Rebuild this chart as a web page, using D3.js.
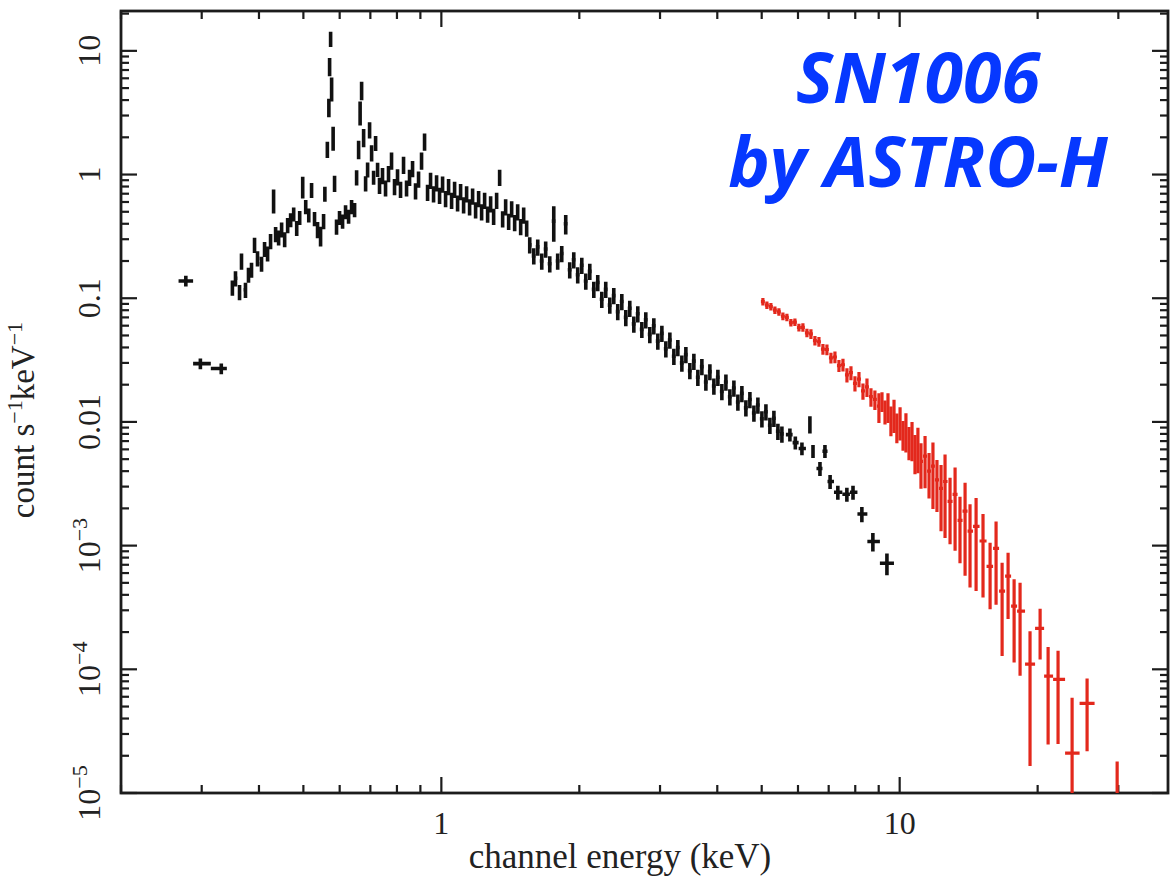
<!DOCTYPE html>
<html>
<head>
<meta charset="utf-8">
<script src="https://cdn.jsdelivr.net/npm/d3@7/dist/d3.min.js"></script>
<style>
  body { margin: 0; background: #fff; }
  svg { display: block; }
</style>
</head>
<body>
<div id="chart"></div>
<script>
// spectrum bins: [energy keV, count s^-1 keV^-1, relative error]
var blackBins = [
  [0.277, 0.138, 0.10], [0.298, 0.0296, 0.10], [0.331, 0.027, 0.10],
  [0.350, 0.122, 0.14], [0.3555, 0.145, 0.14], [0.3628, 0.112, 0.14], [0.3664, 0.20, 0.15],
  [0.3738, 0.117, 0.14], [0.3795, 0.155, 0.14], [0.3853, 0.17, 0.14], [0.3912, 0.27, 0.14],
  [0.3971, 0.21, 0.14], [0.4052, 0.19, 0.14], [0.4114, 0.25, 0.14], [0.4177, 0.23, 0.14],
  [0.4240, 0.29, 0.14], [0.4305, 0.62, 0.22], [0.4349, 0.33, 0.14], [0.4415, 0.31, 0.14],
  [0.4482, 0.36, 0.14], [0.4551, 0.30, 0.14], [0.4620, 0.39, 0.14], [0.4690, 0.43, 0.13],
  [0.4762, 0.48, 0.13], [0.4835, 0.37, 0.14], [0.4908, 0.45, 0.13], [0.4983, 0.80, 0.20],
  [0.5059, 0.55, 0.13], [0.5137, 0.47, 0.13], [0.5210, 0.75, 0.14], [0.5288, 0.44, 0.13],
  [0.5369, 0.36, 0.15], [0.5451, 0.32, 0.18], [0.5534, 0.42, 0.14], [0.557, 0.70, 0.14],
  [0.564, 1.6, 0.15], [0.5683, 3.5, 0.17], [0.5704, 7.5, 0.17], [0.5733, 12.5, 0.14],
  [0.5762, 5.0, 0.22], [0.5806, 2.0, 0.22], [0.5848, 0.85, 0.15], [0.5906, 0.38, 0.14],
  [0.5996, 0.45, 0.13], [0.6088, 0.42, 0.13], [0.6180, 0.50, 0.13], [0.6275, 0.46, 0.13],
  [0.6370, 0.55, 0.13], [0.6467, 0.52, 0.13], [0.6533, 0.95, 0.14], [0.6599, 1.6, 0.17],
  [0.6649, 3.2, 0.22], [0.6699, 4.8, 0.17], [0.6767, 2.0, 0.17], [0.6835, 0.85, 0.14],
  [0.6904, 1.1, 0.14], [0.6973, 2.3, 0.15], [0.7044, 1.5, 0.15], [0.7115, 0.95, 0.13],
  [0.7187, 1.8, 0.14], [0.7259, 1.1, 0.13],
  [0.7330, 0.82, 0.15], [0.7441, 0.98, 0.15], [0.7555, 0.78, 0.15], [0.7669, 1.02, 0.15],
  [0.7786, 1.30, 0.16], [0.7904, 0.80, 0.15], [0.8024, 0.96, 0.15], [0.8146, 0.76, 0.15],
  [0.8270, 1.20, 0.16], [0.8396, 0.78, 0.15], [0.8523, 0.95, 0.15], [0.8653, 1.12, 0.15],
  [0.8784, 0.74, 0.15], [0.8918, 0.92, 0.15], [0.9053, 1.30, 0.16], [0.9191, 1.85, 0.16],
  [0.9331, 0.72, 0.15], [0.9472, 0.90, 0.15], [0.9616, 0.70, 0.15], [0.9763, 0.86, 0.15],
  [0.9911, 0.68, 0.15], [1.0062, 0.84, 0.15], [1.0215, 0.64, 0.15], [1.0370, 0.80, 0.15],
  [1.0528, 0.62, 0.15], [1.0688, 0.76, 0.15], [1.0850, 0.59, 0.15], [1.1015, 0.73, 0.15],
  [1.1183, 0.57, 0.15], [1.1353, 0.70, 0.15], [1.1525, 0.55, 0.15], [1.1700, 0.67, 0.15],
  [1.1878, 0.52, 0.15], [1.2059, 0.64, 0.15], [1.2242, 0.50, 0.15], [1.2428, 0.62, 0.15],
  [1.2617, 0.48, 0.15], [1.2809, 0.58, 0.15], [1.3004, 0.46, 0.15], [1.3201, 0.62, 0.15],
  [1.3402, 0.95, 0.15], [1.3606, 0.44, 0.15], [1.3813, 0.55, 0.15], [1.4023, 0.42, 0.15],
  [1.4236, 0.53, 0.15], [1.4452, 0.41, 0.15], [1.4672, 0.50, 0.15], [1.4895, 0.38, 0.15],
  [1.5122, 0.47, 0.15], [1.5352, 0.37, 0.15],
  [1.559, 0.27, 0.15], [1.591, 0.22, 0.15], [1.623, 0.26, 0.15], [1.656, 0.20, 0.15],
  [1.689, 0.25, 0.15], [1.724, 0.19, 0.15], [1.759, 0.42, 0.32], [1.794, 0.20, 0.15],
  [1.831, 0.23, 0.15], [1.868, 0.40, 0.18], [1.906, 0.17, 0.15], [1.945, 0.205, 0.15],
  [1.984, 0.155, 0.15], [2.025, 0.185, 0.15], [2.066, 0.138, 0.15], [2.108, 0.165, 0.15],
  [2.151, 0.118, 0.15], [2.194, 0.134, 0.15], [2.239, 0.098, 0.15], [2.284, 0.118, 0.15],
  [2.331, 0.088, 0.15], [2.378, 0.105, 0.15], [2.426, 0.078, 0.15], [2.476, 0.094, 0.15],
  [2.526, 0.070, 0.15], [2.577, 0.083, 0.15], [2.630, 0.062, 0.15], [2.683, 0.075, 0.15],
  [2.738, 0.056, 0.15], [2.793, 0.067, 0.15], [2.850, 0.051, 0.15], [2.908, 0.060, 0.15],
  [2.967, 0.045, 0.15], [3.028, 0.052, 0.15], [3.089, 0.039, 0.15], [3.152, 0.046, 0.15],
  [3.216, 0.034, 0.15], [3.281, 0.040, 0.15], [3.348, 0.030, 0.15], [3.416, 0.035, 0.15],
  [3.485, 0.026, 0.15], [3.556, 0.031, 0.15], [3.628, 0.023, 0.15], [3.702, 0.028, 0.15],
  [3.777, 0.021, 0.15], [3.854, 0.0255, 0.15], [3.932, 0.0195, 0.15], [4.012, 0.023, 0.15],
  [4.093, 0.0176, 0.15], [4.177, 0.021, 0.15], [4.261, 0.0160, 0.15], [4.348, 0.0188, 0.15],
  [4.436, 0.0145, 0.15], [4.526, 0.0170, 0.15], [4.618, 0.0130, 0.15], [4.712, 0.0152, 0.15],
  [4.808, 0.0118, 0.15], [4.905, 0.0137, 0.15], [5.005, 0.0106, 0.15], [5.107, 0.0121, 0.15],
  [5.210, 0.0094, 0.15], [5.316, 0.0107, 0.15], [5.424, 0.0084, 0.15], [5.534, 0.0080, 0.15],
  [5.761, 0.0079, 0.12], [5.92, 0.0068, 0.12], [6.12, 0.0061, 0.12], [6.37, 0.0096, 0.16],
  [6.47, 0.0058, 0.12], [6.70, 0.0042, 0.13], [6.87, 0.0058, 0.12], [7.05, 0.0033, 0.13],
  [7.33, 0.0027, 0.13], [7.67, 0.0026, 0.13], [7.91, 0.0027, 0.13], [8.27, 0.0018, 0.14],
  [8.74, 0.00108, 0.17], [9.38, 0.00072, 0.20]
];

var redBins = [
  [5.030, 0.094, 0.07], [5.132, 0.088, 0.07], [5.236, 0.0855, 0.07], [5.343, 0.080, 0.07],
  [5.451, 0.0775, 0.07], [5.562, 0.0715, 0.07], [5.675, 0.070, 0.07], [5.790, 0.0635, 0.07],
  [5.908, 0.064, 0.07], [6.028, 0.058, 0.07], [6.150, 0.0582, 0.08], [6.275, 0.0525, 0.08],
  [6.403, 0.0515, 0.09], [6.533, 0.0455, 0.09], [6.666, 0.0445, 0.09], [6.801, 0.0388, 0.10],
  [6.939, 0.0385, 0.10], [7.080, 0.0330, 0.10], [7.224, 0.0335, 0.11], [7.371, 0.0285, 0.11],
  [7.521, 0.0290, 0.12], [7.673, 0.0240, 0.13], [7.829, 0.0250, 0.13], [7.988, 0.0205, 0.14],
  [8.151, 0.0222, 0.14], [8.316, 0.0178, 0.15], [8.485, 0.0192, 0.17], [8.657, 0.0160, 0.17],
  [8.83, 0.0152, 0.18], [9.01, 0.0134, 0.27], [9.15, 0.0147, 0.18], [9.29, 0.0122, 0.22],
  [9.43, 0.0134, 0.27], [9.57, 0.0105, 0.27], [9.72, 0.0116, 0.30], [9.86, 0.0092, 0.27],
  [10.02, 0.0101, 0.30], [10.17, 0.0080, 0.27], [10.32, 0.0087, 0.35], [10.48, 0.0070, 0.30],
  [10.64, 0.0074, 0.35], [10.80, 0.0058, 0.35], [10.96, 0.0064, 0.40], [11.13, 0.0048, 0.40],
  [11.36, 0.0053, 0.45], [11.59, 0.0040, 0.40], [11.82, 0.0044, 0.55], [12.06, 0.0034, 0.45],
  [12.31, 0.0029, 0.55], [12.56, 0.0033, 0.65], [12.88, 0.00228, 0.55], [13.21, 0.0026, 0.65],
  [13.54, 0.0016, 0.55], [13.89, 0.0019, 0.70], [14.24, 0.00131, 0.65], [14.68, 0.00143, 0.70],
  [15.20, 0.00109, 0.65], [15.75, 0.00068, 0.55], [16.23, 0.00095, 0.65], [16.73, 0.000428, 0.70],
  [17.24, 0.000566, 0.55], [17.77, 0.000324, 0.65], [18.31, 0.000295, 0.70], [19.25, 0.00011, 0.85],
  [20.25, 0.000214, 0.44], [21.08, 0.000088, 0.72], [22.16, 0.000083, 0.70], [23.78, 0.000021, 1.8],
  [25.64, 0.000053, 0.59], [29.82, 0.000005, 2.6]
];

var xDomain = [0.2, 38.5];
var yDomain = [1e-5, 21];
var xLabelValues = [1, 10];
var xLabelText = ["1", "10"];
var yLabelExps = [1, 0, -1, -2, -3, -4, -5];
var yLabelText = ["10", "1", "0.1", "0.01", "10|−3", "10|−4", "10|−5"];
var titleLines = ["SN1006", "by ASTRO-H"];

var width = 1170, height = 879;
var margin = {top: 11, right: 2, bottom: 86, left: 121};
var plotW = width - margin.left - margin.right,
    plotH = height - margin.top - margin.bottom;

var svg = d3.select("#chart").append("svg")
    .attr("width", width)
    .attr("height", height);

var x = d3.scaleLog().domain(xDomain).range([margin.left, margin.left + plotW]);
var y = d3.scaleLog().domain(yDomain).range([margin.top + plotH, margin.top]);

svg.append("clipPath").attr("id", "plotclip")
  .append("rect")
    .attr("x", margin.left).attr("y", margin.top)
    .attr("width", plotW).attr("height", plotH);

// ticks on all four sides, pointing inward
function logTicks(dom) {
    var out = [];
    for (var k = Math.floor(Math.log10(dom[0])); k <= Math.ceil(Math.log10(dom[1])); k++) {
        for (var m = 1; m <= 9; m++) {
            var v = m * Math.pow(10, k);
            if (v >= dom[0] * 0.9999 && v <= dom[1]) out.push({v: v, major: m === 1});
        }
    }
    return out;
}

var axisCol = "#1c1c1c";
var ticks = svg.append("g").attr("stroke", axisCol).attr("stroke-width", 2.2);
var x0 = margin.left, x1 = margin.left + plotW, y0 = margin.top + plotH, y1 = margin.top;

logTicks(xDomain).forEach(function(t) {
    var len = t.major ? 16 : 8, px = x(t.v);
    ticks.append("line").attr("x1", px).attr("x2", px).attr("y1", y0).attr("y2", y0 - len);
    ticks.append("line").attr("x1", px).attr("x2", px).attr("y1", y1).attr("y2", y1 + len);
});
logTicks(yDomain).forEach(function(t) {
    var len = t.major ? 16 : 8, py = y(t.v);
    ticks.append("line").attr("y1", py).attr("y2", py).attr("x1", x0).attr("x2", x0 + len);
    ticks.append("line").attr("y1", py).attr("y2", py).attr("x1", x1).attr("x2", x1 - len);
});

svg.append("rect")
    .attr("x", x0).attr("y", y1)
    .attr("width", plotW).attr("height", plotH)
    .attr("fill", "none")
    .attr("stroke", axisCol)
    .attr("stroke-width", 2.8);

// data: error bar crosses
function drawBins(bins, colour, sw) {
    var logs = bins.map(function(d) { return Math.log10(d[0]); });
    var g = svg.append("g")
        .attr("clip-path", "url(#plotclip)")
        .attr("stroke", colour)
        .attr("stroke-width", sw)
        .attr("fill", "none");
    g.selectAll("path").data(bins).enter().append("path")
        .attr("d", function(d, i) {
            var gl = i > 0 ? (logs[i] - logs[i - 1]) / 2 : null;
            var gr = i < bins.length - 1 ? (logs[i + 1] - logs[i]) / 2 : null;
            if (gl === null) gl = gr;
            if (gr === null) gr = gl;
            if (gl > 2 * gr) gl = gr;
            if (gr > 2 * gl) gr = gl;
            var xl = x(Math.pow(10, logs[i] - gl)), xr = x(Math.pow(10, logs[i] + gr));
            var hi = d[1] * (1 + d[2]);
            var lo = d[1] * (1 - d[2]);
            var yLo = lo > yDomain[0] ? y(lo) : y0 + 10;
            var yc = d[1] > yDomain[0] ? y(d[1]) : y0 + 10;
            return "M" + xl + "," + yc + "H" + xr +
                   "M" + x(d[0]) + "," + y(hi) + "V" + yLo;
        });
}
drawBins(blackBins, "#111", 3.6);
drawBins(redBins, "#e3281c", 3.2);

// tick labels
var serif = "'Liberation Serif', 'Times New Roman', serif";
svg.selectAll(".xlab").data(xLabelValues).enter().append("text")
    .attr("class", "xlab")
    .attr("x", function(d) { return x(d); })
    .attr("y", 834)
    .attr("text-anchor", "middle")
    .style("font-family", serif)
    .style("font-size", "32px")
    .attr("fill", "#222")
    .text(function(d, i) { return xLabelText[i]; });

yLabelExps.forEach(function(e, i) {
    var parts = yLabelText[i].split("|");
    var t = svg.append("text")
        .attr("transform", "translate(100," + y(Math.pow(10, e)) + ") rotate(-90)")
        .attr("text-anchor", "middle")
        .style("font-family", serif)
        .style("font-size", "32px")
        .attr("fill", "#222");
    t.append("tspan").text(parts[0]);
    if (parts[1]) {
        t.append("tspan").attr("dy", -13).style("font-size", "22px").text(parts[1]);
    }
});

// axis titles
svg.append("text")
    .attr("x", 620)
    .attr("y", 868)
    .attr("text-anchor", "middle")
    .style("font-family", serif)
    .style("font-size", "35px")
    .attr("fill", "#222")
    .text("channel energy (keV)");

var yt = svg.append("text")
    .attr("transform", "translate(34,420) rotate(-90)")
    .attr("text-anchor", "middle")
    .style("font-family", serif)
    .style("font-size", "33px")
    .attr("fill", "#222");
yt.append("tspan").text("count s");
yt.append("tspan").attr("dy", -12).style("font-size", "22px").text("−1");
yt.append("tspan").attr("dy", 12).text("keV");
yt.append("tspan").attr("dy", -12).style("font-size", "22px").text("−1");

// title, two lines in one text block
var title = svg.append("text")
    .attr("x", 918)
    .attr("y", 103)
    .attr("text-anchor", "middle")
    .style("font-family", "'Open Sans', 'DejaVu Sans', sans-serif")
    .style("font-weight", "bold")
    .style("font-style", "italic")
    .style("font-size", "70px")
    .attr("fill", "#0638ff");
title.selectAll("tspan").data(titleLines).enter().append("tspan")
    .attr("x", 918)
    .attr("dy", function(d, i) { return i === 0 ? 0 : 84; })
    .text(function(d) { return d; });
</script>
</body>
</html>
